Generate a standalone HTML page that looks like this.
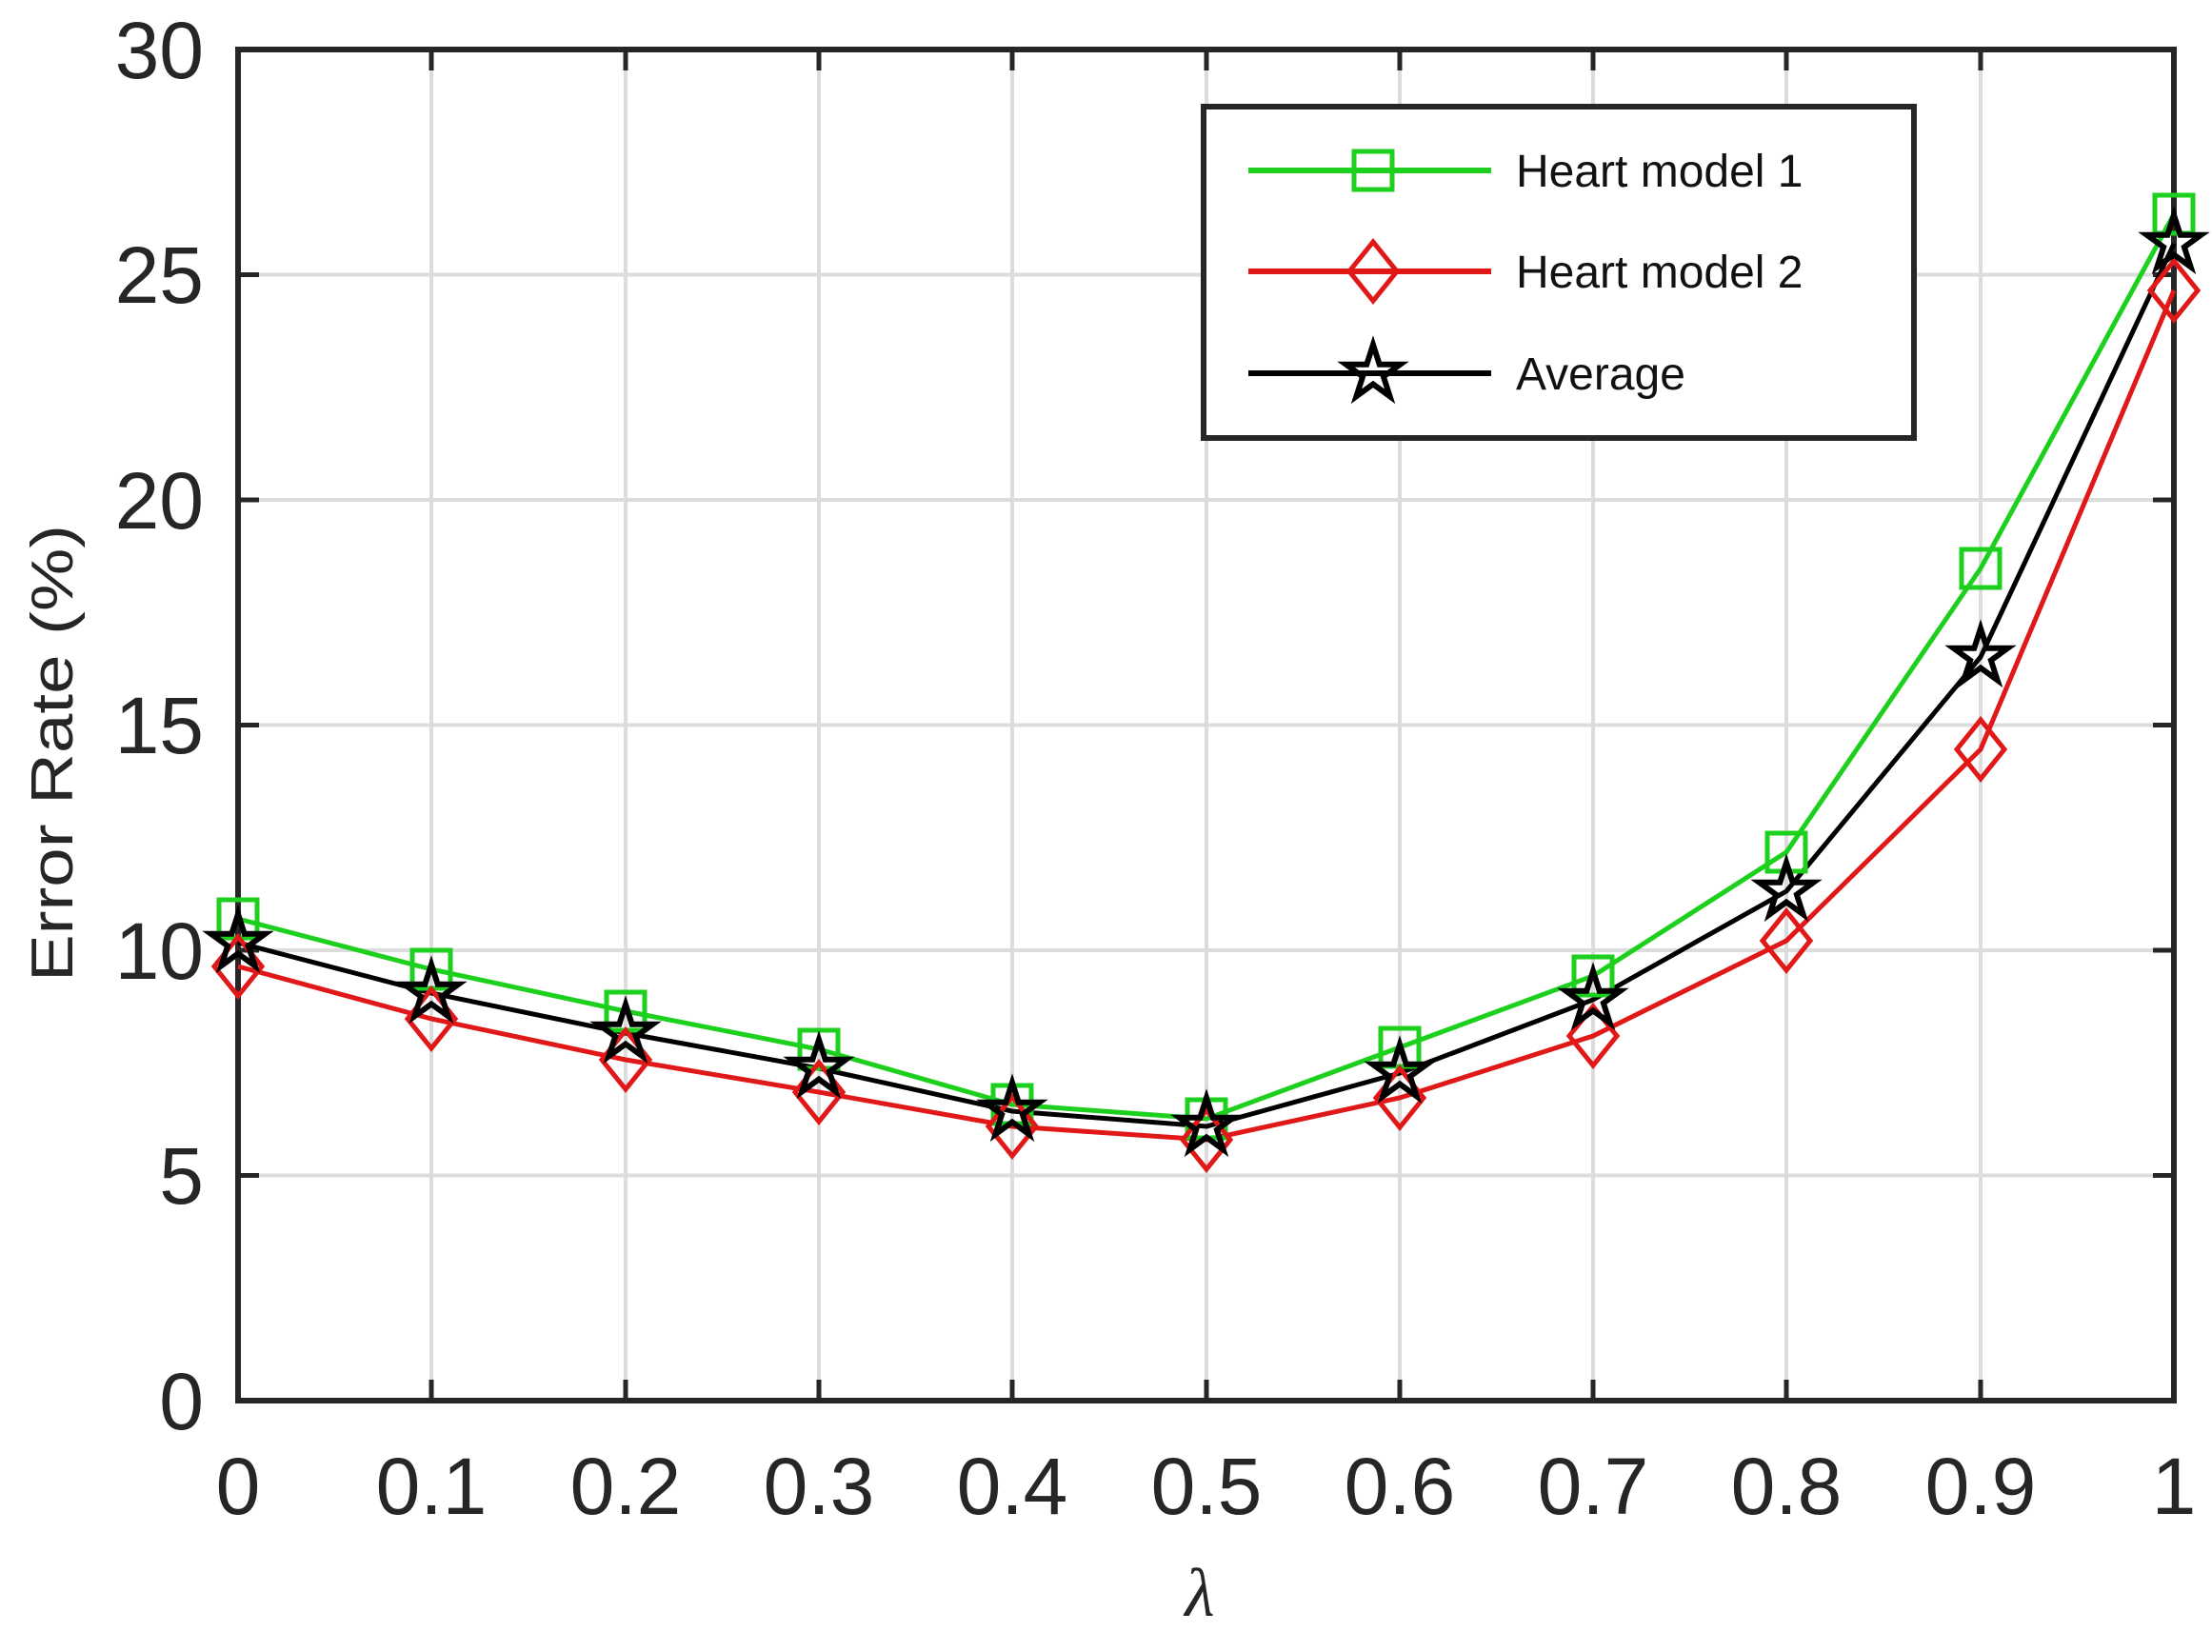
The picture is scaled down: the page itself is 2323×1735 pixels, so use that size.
<!DOCTYPE html>
<html><head><meta charset="utf-8"><style>html,body{margin:0;padding:0;background:#fff}svg{display:block}</style></head>
<body>
<svg width="2323" height="1735" viewBox="0 0 2323 1735" xmlns="http://www.w3.org/2000/svg">
<defs>
<rect id="sq" x="-20" y="-20" width="40" height="40" fill="none" stroke="#1ed01e" stroke-width="5"/>
<polygon id="di" points="0,-31 25,0 0,31 -25,0" fill="none" stroke="#e01818" stroke-width="5"/>
<polygon id="st" points="0,-30 6.7,-9.3 28.5,-9.3 10.9,3.5 17.6,24.3 0,11.5 -17.6,24.3 -10.9,3.5 -28.5,-9.3 -6.7,-9.3" fill="none" stroke="#000" stroke-width="6"/>
</defs>
<rect width="2323" height="1735" fill="#fff"/>
<g stroke="#dcdcdc" stroke-width="4">
<line x1="453" y1="52" x2="453" y2="1471"/><line x1="657" y1="52" x2="657" y2="1471"/><line x1="860" y1="52" x2="860" y2="1471"/><line x1="1063" y1="52" x2="1063" y2="1471"/><line x1="1267" y1="52" x2="1267" y2="1471"/><line x1="1470" y1="52" x2="1470" y2="1471"/><line x1="1673" y1="52" x2="1673" y2="1471"/><line x1="1876" y1="52" x2="1876" y2="1471"/><line x1="2080" y1="52" x2="2080" y2="1471"/>
<line x1="250" y1="1234.5" x2="2283" y2="1234.5"/><line x1="250" y1="998" x2="2283" y2="998"/><line x1="250" y1="761.5" x2="2283" y2="761.5"/><line x1="250" y1="525" x2="2283" y2="525"/><line x1="250" y1="288.5" x2="2283" y2="288.5"/>
</g>
<g stroke="#262626" stroke-width="5">
<path d="M453 1471v-22M657 1471v-22M860 1471v-22M1063 1471v-22M1267 1471v-22M1470 1471v-22M1673 1471v-22M1876 1471v-22M2080 1471v-22"/>
<path d="M453 52v22M657 52v22M860 52v22M1063 52v22M1267 52v22M1470 52v22M1673 52v22M1876 52v22M2080 52v22"/>
<path d="M250 1234.5h22M250 998h22M250 761.5h22M250 525h22M250 288.5h22"/>
<path d="M2283 1234.5h-22M2283 998h-22M2283 761.5h-22M2283 525h-22M2283 288.5h-22"/>
<rect x="250" y="52" width="2033" height="1419" fill="none" stroke-width="6"/>
</g>
<g>
<polyline fill="none" stroke="#1ed01e" stroke-width="5" points="250,965 453,1018 657,1062 860,1102 1063,1160 1267,1175 1470,1100 1673,1025 1876,895 2080,597 2283,225"/>
<polyline fill="none" stroke="#e01818" stroke-width="5" points="250,1015 453,1070 657,1113 860,1147 1063,1183 1267,1197 1470,1153 1673,1088 1876,988 2080,787 2283,305"/>
<polyline fill="none" stroke="#000" stroke-width="5" points="250,990 453,1043 657,1085 860,1122 1063,1167 1267,1183 1470,1127 1673,1050 1876,936 2080,690 2283,256"/>
<use href="#sq" x="250" y="965"/><use href="#sq" x="453" y="1018"/><use href="#sq" x="657" y="1062"/><use href="#sq" x="860" y="1102"/><use href="#sq" x="1063" y="1160"/><use href="#sq" x="1267" y="1175"/><use href="#sq" x="1470" y="1100"/><use href="#sq" x="1673" y="1025"/><use href="#sq" x="1876" y="895"/><use href="#sq" x="2080" y="597"/><use href="#sq" x="2283" y="225"/>
<use href="#di" x="250" y="1015"/><use href="#di" x="453" y="1070"/><use href="#di" x="657" y="1113"/><use href="#di" x="860" y="1147"/><use href="#di" x="1063" y="1183"/><use href="#di" x="1267" y="1197"/><use href="#di" x="1470" y="1153"/><use href="#di" x="1673" y="1088"/><use href="#di" x="1876" y="988"/><use href="#di" x="2080" y="787"/><use href="#di" x="2283" y="305"/>
<use href="#st" x="250" y="990"/><use href="#st" x="453" y="1043"/><use href="#st" x="657" y="1085"/><use href="#st" x="860" y="1122"/><use href="#st" x="1063" y="1167"/><use href="#st" x="1267" y="1183"/><use href="#st" x="1470" y="1127"/><use href="#st" x="1673" y="1050"/><use href="#st" x="1876" y="936"/><use href="#st" x="2080" y="690"/><use href="#st" x="2283" y="256"/>
</g>
<g font-family="Liberation Sans, sans-serif" font-size="84" fill="#262626">
<g text-anchor="end">
<text x="214" y="1501">0</text><text x="214" y="1264">5</text><text x="214" y="1028">10</text><text x="214" y="791">15</text><text x="214" y="555">20</text><text x="214" y="318">25</text><text x="214" y="82">30</text>
</g>
<g text-anchor="middle">
<text x="250" y="1590">0</text><text x="453" y="1590">0.1</text><text x="657" y="1590">0.2</text><text x="860" y="1590">0.3</text><text x="1063" y="1590">0.4</text><text x="1267" y="1590">0.5</text><text x="1470" y="1590">0.6</text><text x="1673" y="1590">0.7</text><text x="1876" y="1590">0.8</text><text x="2080" y="1590">0.9</text><text x="2283" y="1590">1</text>
</g>
<text transform="translate(76,791) rotate(-90)" text-anchor="middle" font-size="62" textLength="480" lengthAdjust="spacingAndGlyphs">Error Rate (%)</text>
</g>
<text x="1260" y="1697" text-anchor="middle" font-family="Liberation Serif, serif" font-style="italic" font-size="72" fill="#262626">λ</text>
<rect x="1264" y="112" width="746" height="348" fill="#fff" stroke="#262626" stroke-width="6"/>
<line x1="1311" y1="179" x2="1566" y2="179" stroke="#1ed01e" stroke-width="6"/>
<line x1="1311" y1="285" x2="1566" y2="285" stroke="#e01818" stroke-width="6"/>
<line x1="1311" y1="392" x2="1566" y2="392" stroke="#000" stroke-width="6"/>
<use href="#sq" x="1442" y="179"/><use href="#di" x="1442" y="285"/><use href="#st" x="1442" y="392"/>
<g font-family="Liberation Sans, sans-serif" font-size="48" fill="#111">
<text x="1592" y="196">Heart model 1</text>
<text x="1592" y="302">Heart model 2</text>
<text x="1592" y="409">Average</text>
</g>
</svg>
</body></html>
